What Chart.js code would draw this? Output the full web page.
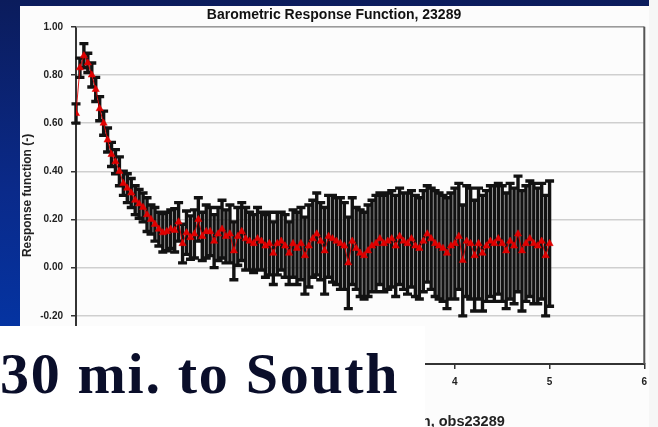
<!DOCTYPE html>
<html>
<head>
<meta charset="utf-8">
<script src="https://cdn.jsdelivr.net/npm/chart.js@4.4.1/dist/chart.umd.min.js"></script>
<style>
  html, body { margin: 0; padding: 0; }
  body { width: 658px; height: 427px; overflow: hidden; position: relative; background: #f6f6f6; }
  #slide {
    position: absolute; left: 0; top: 0; width: 649px; height: 427px;
    background: linear-gradient(to bottom, #0b1c5c 0%, #0a2a8a 45%, #0336a8 85%);
  }
  #panel { position: absolute; left: 20px; top: 6px; width: 629px; height: 427px; background: #fcfcfc; }
  #caption {
    position: absolute; left: 0; top: 326px; width: 425px; height: 101px; background: #ffffff;
    font: bold 58px "Liberation Serif", "Times New Roman", serif; color: #0a0e2a;
    line-height: 58px; white-space: nowrap;
  }
  #caption span { position: absolute; left: 0; top: 19px; letter-spacing: 1.7px; }
</style>
</head>
<body>
<div id="slide"></div>
<div id="panel"><canvas id="brf" width="629" height="427"></canvas></div>
<div id="caption"><span>30 mi. to South</span></div>
<script>
// hourly lags, 0 to 120 h (0 to 5 days)
const response = [
  0.64, 0.83, 0.88, 0.85, 0.80, 0.74, 0.66, 0.60, 0.53, 0.47,
  0.44, 0.40, 0.35, 0.33, 0.31, 0.28, 0.265, 0.25, 0.22, 0.20,
  0.18, 0.16, 0.145, 0.15, 0.16, 0.155, 0.19, 0.10, 0.145, 0.125,
  0.14, 0.20, 0.13, 0.15, 0.15, 0.11, 0.14, 0.16, 0.13, 0.14,
  0.07, 0.13, 0.15, 0.12, 0.11, 0.10, 0.12, 0.11, 0.09, 0.10,
  0.06, 0.10, 0.11, 0.09, 0.06, 0.10, 0.08, 0.10, 0.05, 0.09,
  0.12, 0.14, 0.11, 0.07, 0.13, 0.12, 0.11, 0.10, 0.09, 0.02,
  0.11, 0.08, 0.06, 0.05, 0.07, 0.09, 0.10, 0.12, 0.10, 0.11,
  0.12, 0.09, 0.13, 0.11, 0.10, 0.12, 0.09, 0.08, 0.11, 0.14,
  0.12, 0.10, 0.09, 0.08, 0.06, 0.09, 0.10, 0.13, 0.03, 0.11,
  0.10, 0.05, 0.10, 0.06, 0.09, 0.11, 0.10, 0.12, 0.10, 0.07,
  0.11, 0.09, 0.14, 0.07, 0.10, 0.12, 0.10, 0.09, 0.11, 0.05, 0.10
];

// +/- error on each lag
const stdErr = [
  0.04, 0.04, 0.05, 0.04, 0.05, 0.05, 0.05, 0.05, 0.05, 0.05,
  0.05, 0.06, 0.05, 0.06, 0.06, 0.06, 0.06, 0.06, 0.07, 0.06,
  0.07, 0.07, 0.08, 0.08, 0.08, 0.09, 0.08, 0.08, 0.09, 0.09,
  0.10, 0.09, 0.10, 0.11, 0.10, 0.11, 0.11, 0.12, 0.11, 0.12,
  0.12, 0.12, 0.12, 0.13, 0.12, 0.12, 0.13, 0.12, 0.13, 0.13,
  0.13, 0.13, 0.12, 0.13, 0.13, 0.14, 0.15, 0.15, 0.16, 0.17,
  0.16, 0.17, 0.16, 0.18, 0.17, 0.18, 0.18, 0.19, 0.18, 0.19,
  0.18, 0.17, 0.18, 0.18, 0.19, 0.19, 0.20, 0.19, 0.20, 0.20,
  0.20, 0.21, 0.20, 0.20, 0.21, 0.20, 0.21, 0.21, 0.21, 0.20,
  0.21, 0.22, 0.22, 0.22, 0.23, 0.22, 0.23, 0.22, 0.23, 0.23,
  0.23, 0.23, 0.23, 0.24, 0.23, 0.23, 0.24, 0.23, 0.24, 0.24,
  0.24, 0.24, 0.24, 0.25, 0.24, 0.24, 0.25, 0.24, 0.24, 0.25, 0.26
];

const lagDays = response.map((_, h) => h / 24);

const axisFont = { family: 'Liberation Sans, Arial, sans-serif', size: 10, weight: 'bold' };
const titleFont = { family: 'Liberation Sans, Arial, sans-serif', size: 14, weight: 'bold' };

// vertical error bars with caps, under the markers
const errorBars = {
  id: 'errorBars',
  beforeDatasetsDraw(chart) {
    const { ctx, scales: { x, y } } = chart;
    const cap = 4.5;
    ctx.save();
    ctx.strokeStyle = '#121212';
    ctx.lineWidth = 3.4;
    ctx.beginPath();
    response.forEach((v, i) => {
      const px = x.getPixelForValue(lagDays[i]);
      const top = y.getPixelForValue(v + stdErr[i]);
      const bot = y.getPixelForValue(v - stdErr[i]);
      ctx.moveTo(px, top); ctx.lineTo(px, bot);
      ctx.moveTo(px - cap, top); ctx.lineTo(px + cap, top);
      ctx.moveTo(px - cap, bot); ctx.lineTo(px + cap, bot);
    });
    ctx.stroke();
    ctx.restore();
  }
};

// top and right edges of the plot box
const plotFrame = {
  id: 'plotFrame',
  beforeDatasetsDraw(chart) {
    const { ctx, chartArea: a } = chart;
    ctx.save();
    ctx.strokeStyle = '#9a9a9a';
    ctx.lineWidth = 1.5;
    ctx.beginPath();
    ctx.moveTo(a.left, a.top); ctx.lineTo(a.right, a.top);
    ctx.stroke();
    ctx.strokeStyle = '#555';
    ctx.lineWidth = 2;
    ctx.beginPath();
    ctx.moveTo(a.right, a.top); ctx.lineTo(a.right, a.bottom);
    ctx.stroke();
    ctx.restore();
  }
};

new Chart(document.getElementById('brf'), {
  type: 'line',
  data: {
    datasets: [{
      data: response.map((v, i) => ({ x: lagDays[i], y: v })),
      borderColor: '#e00000',
      borderWidth: 0.9,
      backgroundColor: '#e00000',
      pointStyle: 'triangle',
      pointRadius: 4.2,
      pointBorderWidth: 0.5,
      tension: 0
    }]
  },
  options: {
    responsive: false,
    animation: false,
    layout: { padding: { left: 0, right: 1, top: 0, bottom: 0 } },
    plugins: {
      legend: { display: false },
      tooltip: { enabled: false },
      title: {
        display: true,
        text: 'Barometric Response Function, 23289',
        font: titleFont,
        color: '#111',
        padding: { top: 1, bottom: 3 }
      }
    },
    scales: {
      x: {
        type: 'linear',
        min: 0,
        max: 6,
        ticks: { stepSize: 1, font: axisFont, color: '#222', padding: 7 },
        grid: { drawOnChartArea: false, tickLength: 5, tickColor: '#333', lineWidth: 1.5 },
        border: { color: '#333', width: 2 },
        title: {
          display: true,
          text: 'Barometric Response Function, obs23289',
          font: { family: 'Liberation Sans, Arial, sans-serif', size: 14.5, weight: 'bold' },
          color: '#222',
          padding: { top: 0, bottom: 2 }
        },
        afterFit(scale) {
          scale.height = 69;
          scale.paddingLeft = 0;
          scale.paddingRight = 0;
        }
      },
      y: {
        min: -0.4,
        max: 1.0,
        ticks: {
          stepSize: 0.2, font: axisFont, color: '#222', padding: 8,
          callback: v => (Math.abs(v) < 1e-9 ? 0 : v).toFixed(2)
        },
        grid: { color: '#cfcfcf', lineWidth: 1.5, tickLength: 5, tickColor: '#333' },
        border: { color: '#333', width: 2 },
        title: {
          display: true,
          text: 'Response function (-)',
          font: { family: 'Liberation Sans, Arial, sans-serif', size: 12, weight: 'bold' },
          color: '#222',
          padding: 0
        },
        afterFit(scale) { scale.width = 56; }
      }
    }
  },
  plugins: [plotFrame, errorBars]
});
</script>
</body>
</html>
